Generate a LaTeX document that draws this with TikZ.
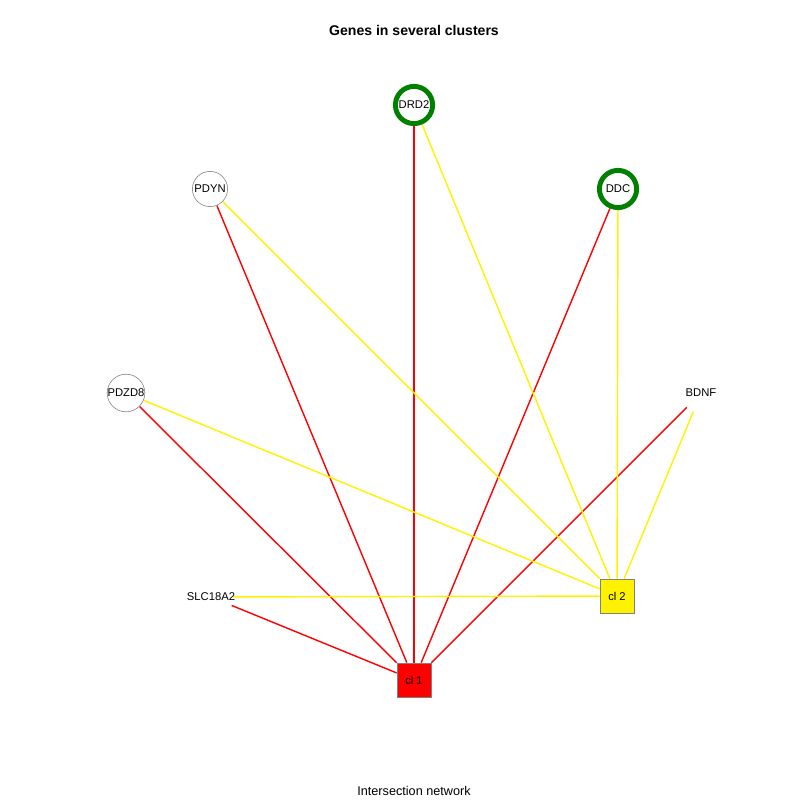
\documentclass[tikz,border=0pt]{standalone}
\usepackage{fontspec}
\setmainfont{Liberation Sans}
\usetikzlibrary{positioning, backgrounds}
\definecolor{dkgreen}{RGB}{0,128,0}

\begin{document}
\begin{tikzpicture}[x=0.025cm, y=-0.025cm, font=\fontsize{8}{9}\selectfont]

	\useasboundingbox (0,0) rectangle (800,800);

	% 基因节点
	\node[draw=dkgreen, fill=white, circle, line width=3.5pt, minimum size=0.93cm, inner sep=0pt] (drd2) at (414,105) {DRD2};
	\node[draw=gray, fill=white, circle, line width=0.4pt, minimum size=0.88cm, inner sep=0pt] (pdyn) at (210,189) {PDYN};
	\node[draw=dkgreen, fill=white, circle, line width=3.5pt, minimum size=0.93cm, inner sep=0pt] (ddc) at (618,189) {DDC};
	\node[draw=gray, fill=white, circle, line width=0.4pt, minimum size=0.88cm, inner sep=0pt] (pdzd8) at (126,393) {PDZD8};
	\node[circle, minimum size=1cm, inner sep=0pt, label={center:BDNF}] (bdnf) at (701,393) {};
	\node[circle, minimum size=1.1cm, inner sep=0pt, label={center:SLC18A2}] (slc) at (211,597) {};

	% 聚类节点
	\node[draw=gray, fill=red, rectangle, line width=0.5pt, minimum size=0.85cm] (cl1) at (414,680) {cl 1};
	\node[draw=gray, fill=yellow, rectangle, line width=0.5pt, minimum size=0.85cm] (cl2) at (617,596) {cl 2};

	% 连线
	\begin{pgfonlayer}{background}
	\fill[white] (0,0) rectangle (800,800);
	\foreach \g in {pdzd8, pdyn, drd2, ddc, bdnf, slc}
		\draw[red, line width=1pt] (\g) -- (cl1);
	\foreach \g in {pdzd8, pdyn, drd2, ddc, bdnf, slc}
		\draw[yellow, line width=1pt] (\g) -- (cl2);
	\end{pgfonlayer}

	% 标题
	\node[font=\fontsize{10}{12}\selectfont\bfseries] (title) at (414,30) {Genes in several clusters};
	\node[font=\fontsize{9}{11}\selectfont] (caption) at (414,791) {Intersection network};

\end{tikzpicture}
\end{document}
